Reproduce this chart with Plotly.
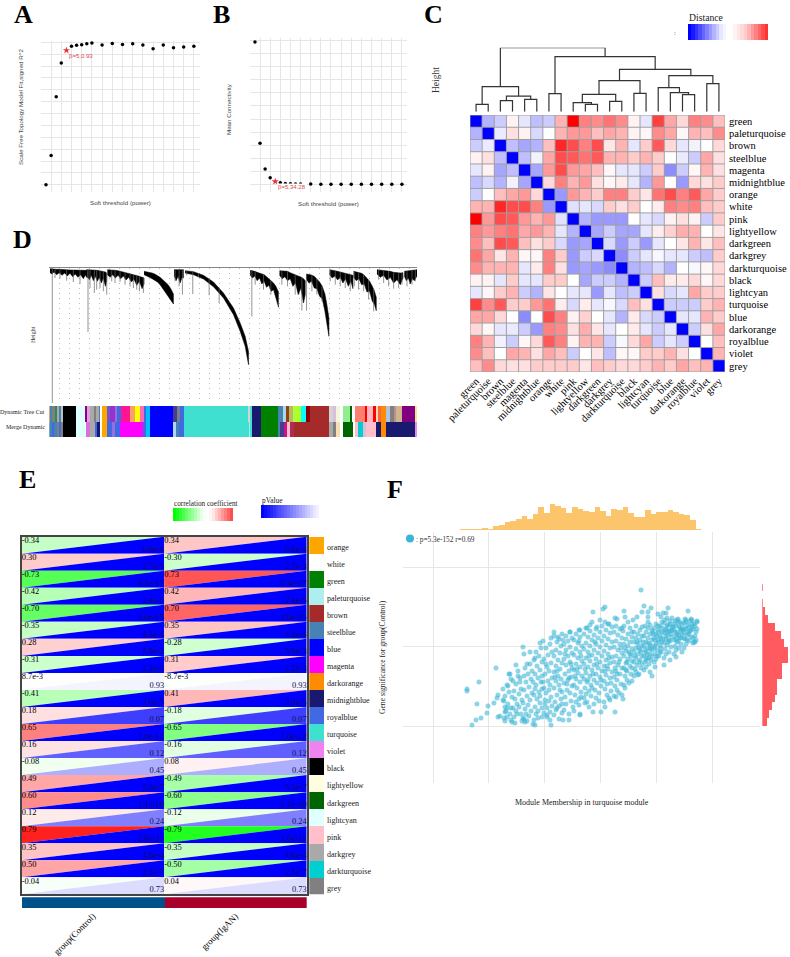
import numpy as np
import plotly.graph_objects as go

W, H = 790, 957
SERIF = "Liberation Serif"
SANS = "Liberation Sans"

# ---------- A / B soft threshold ----------
powers = [1, 2, 3, 4, 5, 6, 7, 8, 9, 10, 12, 14, 16, 18, 20, 22, 24, 26, 28, 30]
r2_signed = [0.0, 0.203, 0.609, 0.842, 0.93, 0.958, 0.965, 0.969, 0.976, 0.981,
             0.967, 0.978, 0.971, 0.976, 0.967, 0.941, 0.967, 0.948, 0.953, 0.958]
mean_conn = [1820, 525, 193, 81, 34.28, 17, 9, 5, 3, 2, 1, 0.6, 0.4, 0.3, 0.2, 0.1, 0.1, 0.1, 0.1, 0.1]

# ---------- C module distance heatmap ----------
modules_c = ["green", "paleturquoise", "brown", "steelblue", "magenta", "midnightblue", "orange",
             "white", "pink", "lightyellow", "darkgreen", "darkgrey", "darkturquoise", "black",
             "lightcyan", "turquoise", "blue", "darkorange", "royalblue", "violet", "grey"]
distance = [
    [-1, -.3, -.2, .05, -.1, -.25, -.2, .3, 1, .5, .45, .55, .45, .05, -.1, .75, .35, .15, .5, .45, .25],
    [-.3, -1, -.08, .12, .05, -.15, 0, .3, .4, .4, .25, .35, .3, .05, .03, .45, .35, .03, .3, .25, .45],
    [-.2, -.08, -1, -.25, -.35, -.3, .25, .85, .7, .5, .7, .1, .3, -.1, .2, .65, .15, -.1, -.05, 0, .15],
    [.05, .12, -.25, -1, -.25, -.05, .35, .7, .65, .55, .65, .3, .3, .2, .3, .2, 0, -.08, -.2, .35, .12],
    [-.1, .05, -.35, -.25, -1, -.35, .4, .7, .4, .35, .25, .03, -.1, -.1, -.2, .2, -.45, -.2, .03, .3, .12],
    [-.25, -.15, -.3, -.05, -.35, -1, .15, .5, .3, .4, .12, .03, .08, -.1, -.3, .4, 0, -.4, .15, .12, .2],
    [-.2, 0, .25, .35, .4, .15, -1, -.4, .4, .3, .2, .5, .5, .2, .1, .55, .7, .5, .65, .35, .2],
    [.3, .3, .85, .7, .7, .5, -.4, -1, -.12, -.1, -.15, .2, .12, .2, 0, .07, .5, .45, .5, .25, .2],
    [1, .4, .7, .65, .4, .3, .4, -.12, -1, -.3, -.4, -.4, -.4, 0, -.1, -.15, .05, .12, .05, -.2, .2],
    [.5, .4, .5, .55, .35, .4, .3, -.1, -.3, -1, -.35, -.2, -.35, -.35, -.1, .07, .18, .32, .3, 0, .1],
    [.45, .25, .7, .65, .25, .12, .2, -.15, -.4, -.35, -1, -.15, -.4, -.2, -.4, -.1, 0, .1, .3, .1, .25],
    [.55, .35, .1, .3, .03, .03, .5, .2, -.4, -.2, -.15, -1, -.45, -.2, -.1, -.03, -.1, -.1, -.2, -.25, .2],
    [.45, .3, .3, .3, -.1, .08, .5, .12, -.4, -.35, -.4, -.45, -1, -.3, -.25, -.15, -.3, 0, -.03, .03, .15],
    [.05, .05, -.1, .2, -.1, -.1, .2, .2, 0, -.35, -.2, -.2, -.3, -1, -.2, .25, .08, .08, .15, .03, .15],
    [-.1, .03, .2, .3, -.2, -.3, .1, 0, -.1, -.1, -.4, -.1, -.25, -.2, -1, .12, -.15, -.1, .35, .2, .2],
    [.75, .45, .65, .2, .2, .4, .55, .07, -.15, .07, -.1, -.03, -.15, .25, .12, -1, -.2, -.2, -.2, .2, .3],
    [.35, .35, .15, 0, -.45, 0, .7, .5, .05, .18, 0, -.1, -.3, .08, -.15, -.2, -1, -.1, -.1, .3, .2],
    [.15, .03, -.1, -.08, -.2, -.4, .5, .45, .12, .32, .1, -.1, 0, .08, -.1, -.2, -.1, -1, -.2, .12, .35],
    [.5, .3, -.05, -.2, .03, .15, .65, .5, .05, .3, .3, -.2, -.03, .15, .35, -.2, -.1, -.2, -1, 0, .25],
    [.45, .25, 0, .35, .3, .12, .35, .25, -.2, 0, .1, -.25, .03, .03, .2, .2, .3, .12, 0, -1, .3],
    [.25, .45, .15, .12, .12, .2, .2, .2, .2, .1, .25, .2, .15, .15, .2, .3, .2, .35, .25, .3, -1],
]
distance_legend = [-1, -.9, -.8, -.7, -.6, -.5, -.4, -.3, -.2, -.1, -.04, 0, 0, .05, .1, .15, .2, .3, .4, .5, .6, .7, .8]
# merges: (node a, node b, height); leaves are 0..20, new nodes count up from 21
module_merges = [
    (0, 1, 22), (2, 3, 33), (4, 5, 37), (22, 23, 47), (21, 24, 75), (6, 7, 54),
    (9, 10, 22), (8, 27, 27), (11, 12, 31), (28, 29, 52), (13, 14, 55), (30, 31, 93),
    (17, 18, 51), (16, 33, 57), (15, 34, 72), (19, 20, 84), (35, 36, 108),
    (32, 37, 127), (26, 38, 165), (25, 39, 192),
]

# ---------- D gene dendrogram ----------
# (gene order, top of the branch, jagged bottom of the branch)
branch_1 = [(150, 2, 14), (156, 3, 18), (162, 3, 12), (170, 4, 20), (178, 4, 14), (186, 5, 22), (194, 5, 15), (202, 5, 24),
            (210, 6, 16), (218, 6, 26), (226, 6, 18), (234, 7, 28), (242, 7, 20), (250, 8, 32), (256, 7, 22), (262, 5, 30)]
branch_2 = [(262, 5, 25), (268, 5, 35), (274, 5, 22), (280, 5, 38), (286, 6, 25), (292, 7, 40), (298, 8, 28), (304, 9, 45),
            (310, 10, 30), (316, 12, 55), (320, 15, 40)]
branch_3 = [(322, 5, 20), (330, 5, 28), (338, 6, 20), (346, 7, 30), (354, 8, 22), (362, 10, 32), (370, 11, 24), (378, 13, 36),
            (386, 15, 28), (394, 18, 42), (402, 20, 34), (410, 22, 52), (418, 25, 40), (426, 28, 62), (432, 30, 48)]
branch_4 = [(432, 10, 20), (440, 11, 25), (448, 13, 28), (456, 15, 32), (464, 18, 36), (472, 22, 42), (480, 28, 50),
            (488, 35, 60), (496, 42, 72), (504, 50, 85), (512, 62, 96), (520, 78, 108)]
branch_5 = [(522, 5, 22), (528, 5, 38), (534, 5, 25), (540, 5, 45), (546, 5, 28), (550, 5, 30)]
branch_6 = [(555, 8, 15), (580, 11, 20), (610, 22, 33), (640, 42, 56), (670, 75, 90), (700, 120, 140),
            (720, 165, 190), (735, 205, 235), (745, 250, 290)]
branch_7 = [(750, 7, 22), (757, 8, 30), (764, 10, 24), (771, 13, 38), (778, 15, 30), (785, 17, 48), (792, 20, 40),
            (799, 26, 58), (806, 32, 52), (813, 38, 70), (820, 45, 65), (827, 55, 90), (835, 72, 118)]
branch_8 = [(838, 8, 22), (846, 8, 32), (854, 9, 26), (862, 10, 38), (870, 14, 32), (878, 18, 55), (886, 20, 45),
            (894, 24, 80), (902, 27, 60), (910, 32, 105), (915, 38, 80)]
branch_9 = [(918, 18, 32), (926, 19, 45), (934, 21, 40), (942, 25, 60), (950, 32, 62), (958, 42, 85), (966, 55, 92),
            (974, 78, 130), (980, 110, 165), (986, 150, 205)]
branch_10 = [(988, 5, 20), (996, 6, 30), (1004, 8, 24), (1012, 10, 36), (1020, 12, 28), (1028, 14, 45), (1036, 16, 32),
             (1044, 18, 55), (1052, 20, 40), (1058, 22, 62)]
branch_11 = [(1060, 10, 28), (1068, 12, 38), (1076, 14, 32), (1084, 16, 50), (1092, 22, 48), (1100, 30, 72), (1108, 40, 70),
             (1116, 55, 100), (1122, 68, 108), (1128, 88, 128)]
branch_12 = [(1130, 5, 18), (1140, 6, 28), (1150, 7, 22), (1160, 8, 36), (1170, 10, 28), (1180, 13, 45), (1190, 15, 35),
             (1200, 15, 50), (1208, 14, 30)]
branch_13 = [(1212, 10, 24), (1218, 9, 38), (1224, 9, 30), (1230, 8, 48), (1236, 8, 32), (1242, 6, 38), (1250, 5, 24)]
branches = [branch_1, branch_2, branch_3, branch_4, branch_5, branch_6, branch_7, branch_8, branch_9,
            branch_10, branch_11, branch_12, branch_13]
drops = [(157, 0, 405), (264, 5, 192), (283, 5, 75), (300, 8, 60), (320, 15, 80), (345, 7, 45), (375, 12, 50), (400, 20, 60),
         (418, 25, 70), (430, 28, 75), (547, 5, 80), (578, 11, 78), (627, 30, 82), (657, 58, 105), (755, 8, 145), (765, 10, 50),
         (790, 20, 65), (812, 38, 80), (835, 70, 115), (845, 8, 50), (862, 10, 55), (885, 20, 80), (905, 28, 128), (919, 18, 128),
         (935, 21, 70), (950, 32, 80), (965, 55, 100), (990, 5, 40), (1005, 8, 50), (1020, 12, 55), (1035, 16, 60), (1050, 20, 70),
         (1062, 11, 55), (1075, 14, 65), (1090, 20, 70), (1105, 35, 95), (1120, 60, 130), (1135, 6, 35), (1150, 7, 45), (1165, 9, 55),
         (1180, 13, 62), (1195, 15, 60), (1205, 15, 50), (1220, 9, 55), (1235, 8, 50), (1245, 6, 40), (165, 4, 30), (180, 4, 32),
         (200, 5, 38), (220, 6, 42), (240, 7, 48), (270, 5, 60), (290, 7, 65), (310, 10, 70), (335, 6, 40), (360, 10, 42),
         (390, 16, 55), (410, 22, 65), (525, 5, 40), (537, 5, 55), (560, 8, 22), (595, 15, 28)]

tree_edges = [148, 152, 158, 165, 172, 178, 184, 190, 230, 258, 262, 272, 284, 290, 297, 303, 308, 322, 330, 345,
              352, 365, 392, 405, 422, 432, 440, 452, 520, 532, 540, 553, 748, 752, 758, 783, 836, 850, 858, 868,
              880, 905, 918, 930, 988, 1000, 1008, 1020, 1030, 1050, 1060, 1065, 1095, 1102, 1120, 1128, 1135,
              1145, 1160, 1172, 1183, 1190, 1208, 1245, 1252]
tree_colors = ["peru", "steelblue", "grey", "seagreen", "darkgrey", "steelblue", "silver", "black", "lightcyan",
               "darkmagenta", "plum", "darkgrey", "grey", "darkgrey", "steelblue", "white", "orange", "slateblue",
               "darkorchid", "mediumpurple", "royalblue", "deeppink", "sandybrown", "yellow", "hotpink", "royalblue",
               "deepskyblue", "blue", "darkslateblue", "slategrey", "royalblue", "turquoise", "lightgrey", "turquoise",
               "midnightblue", "green", "steelblue", "lightblue", "saddlebrown", "darkkhaki", "greenyellow", "cyan",
               "darkred", "brown", "lightgrey", "thistle", "beige", "white", "lightgreen", "darkgreen", "white",
               "salmon", "red", "lightpink", "red", "wheat", "tomato", "darkorange", "lightsteelblue", "grey",
               "rosybrown", "tan", "purple", "khaki"]
merge_edges = [148, 156, 164, 172, 178, 186, 190, 230, 258, 270, 285, 292, 300, 308, 322, 338, 347, 362, 430, 440,
               452, 520, 530, 538, 553, 748, 752, 758, 783, 836, 842, 852, 862, 870, 884, 988, 1000, 1008, 1020,
               1030, 1060, 1065, 1075, 1090, 1100, 1128, 1145, 1158, 1245, 1252]
merge_colors = ["steelblue", "royalblue", "steelblue", "grey", "royalblue", "grey", "black", "lightcyan",
                "orchid", "darkgrey", "royalblue", "midnightblue", "white", "orange", "royalblue", "mediumpurple",
                "royalblue", "magenta", "royalblue", "deepskyblue", "blue", "lightblue", "steelblue", "royalblue",
                "turquoise", "paleturquoise", "turquoise", "midnightblue", "green", "steelblue", "darkslateblue",
                "mediumvioletred", "pink", "#b22a5a", "brown", "darkgrey", "grey", "wheat", "white", "darkgreen",
                "white", "pink", "darkturquoise", "thistle", "pink", "midnightblue", "darkorange", "midnightblue",
                "violet"]

# ---------- E module-trait table ----------
modules_e = ["orange", "white", "green", "paleturquoise", "brown", "steelblue", "blue", "magenta", "darkorange",
             "midnightblue", "royalblue", "turquoise", "violet", "black", "lightyellow", "darkgreen", "lightcyan",
             "pink", "darkgrey", "darkturquoise", "grey"]
corr_control = [-.34, .30, -.73, -.42, -.70, -.35, .28, -.31, .0087, -.41, .18, .65, .16, -.08, .49, .60, .12, .79,
                .35, .50, -.04]
corr_text = ["-0.34", "0.30", "-0.73", "-0.42", "-0.70", "-0.35", "0.28", "-0.31", "8.7e-3", "-0.41", "0.18", "0.65",
             "0.16", "-0.08", "0.49", "0.60", "0.12", "0.79", "0.35", "0.50", "-0.04"]
corr_text_igan = ["0.34", "-0.30", "0.73", "0.42", "0.70", "0.35", "-0.28", "0.31", "-8.7e-3", "0.41", "-0.18", "-0.65",
                  "-0.16", "0.08", "-0.49", "-0.60", "-0.12", "-0.79", "-0.35", "-0.50", "0.04"]
p_values = [6.8e-4, 2.7e-3, 6.3e-17, 2.4e-5, 3.0e-15, 4.3e-4, 5.9e-3, 2.2e-3, .93, 3.0e-5, .07, 1.0e-12, .12, .45,
            5.3e-7, 1.1e-10, .24, 2.6e-21, 4.6e-4, 2.5e-7, .73]
p_text = ["6.8e-4", "2.7e-3", "6.3e-17", "2.4e-5", "3.0e-15", "4.3e-4", "5.9e-3", "2.2e-3", "0.93", "3.0e-5", "0.07",
          "1.0e-12", "0.12", "0.45", "5.3e-7", "1.1e-10", "0.24", "2.6e-21", "4.6e-4", "2.5e-7", "0.73"]
groups = ["group(Control)", "group(IgAN)"]
group_colors = ["#00508c", "#a8002a"]
corr_legend = [-1, -.9, -.8, -.7, -.6, -.5, -.4, -.3, -.2, -.1, -.03, 0, .03, .1, .2, .3, .4, .5, .6, .7]
p_legend = [0, .05, .1, .15, .2, .25, .3, .35, .4, .45, .5, .55, .6, .65, .7, .75, .8, .85, .9, .95, 1]

# ---------- F membership vs significance ----------
# the original axes carry no numbers, so values are read on the scale of the grid
gene_points = [
    (34, 37), (34, 35), (46, 44), (63, 58), (44, 22), (55, 20), (54, 13), (48, 8), (43, 6), (39, 1), (61, 23), (64, 28),
    (65, 31), (70, 26), (75, 40), (80, 45), (76, 52), (85, 50), (65, 9), (67, 10), (72, 14), (72, 19), (78, 18), (74, 9),
    (72, 5), (79, 4), (84, 12), (90, 8), (92, 4), (100, 2), (102, 1), (109, 9), (114, 11), (118, 1), (117, 6), (130, 6),
    (136, 6), (147, 11), (129, 13), (124, 18), (140, 19), (146, 21), (90, 79), (91, 72), (97, 74), (83, 61), (77, 52),
    (94, 62), (102, 68), (107, 83), (121, 94), (125, 89), (130, 86), (137, 94), (147, 96),
    (208, 136), (160, 114), (170, 117), (172, 119), (191, 115), (192, 109), (211, 120), (218, 118), (235, 118), (255, 115),
    (209, 114), (215, 114), (215, 109), (225, 112), (230, 113), (233, 113), (228, 109), (234, 108), (239, 108), (245, 107),
    (252, 107), (264, 105), (259, 106), (204, 109), (215, 104), (217, 101), (167, 106), (184, 107), (182, 108), (172, 104),
    (176, 102), (159, 104), (157, 101), (154, 98), (164, 99), (189, 98), (190, 95), (199, 94), (209, 99), (212, 100), (220, 94),
    (182, 14), (168, 14), (160, 14), (156, 19), (172, 19), (152, 23), (147, 12), (190, 27), (177, 26), (183, 29), (189, 31),
    (199, 45), (192, 38), (219, 50), (217, 54), (231, 61), (243, 69), (249, 74), (260, 83), (262, 84), (237, 66), (222, 59), (205, 51),
    (71, 8), (73, 15), (75, 22), (72, 30), (76, 34), (74, 41), (78, 47), (71, 25), (77, 12), (79, 29), (78, 6), (74, 18), (70, 37),
    (81, 9), (83, 15), (84, 22), (82, 27), (86, 32), (88, 37), (83, 42), (87, 48), (85, 55), (89, 5), (82, 3), (88, 12), (86, 19),
    (81, 35), (89, 26), (87, 44), (80, 18),
    (91, 7), (93, 12), (92, 17), (95, 21), (97, 26), (94, 30), (91, 36), (96, 39), (93, 44), (98, 47), (95, 52), (92, 58), (97, 62),
    (99, 33), (90, 23), (94, 5), (98, 15), (96, 10), (99, 55), (91, 50),
    (101, 6), (103, 12), (105, 15), (102, 19), (107, 23), (104, 27), (101, 31), (106, 34), (109, 37), (103, 41), (108, 44), (105, 48),
    (102, 52), (107, 56), (104, 60), (109, 64), (101, 66), (106, 70), (103, 74), (108, 78), (109, 18), (105, 8), (107, 30), (100, 44),
    (102, 37), (109, 50),
    (111, 13), (114, 18), (112, 22), (116, 25), (118, 29), (113, 33), (111, 38), (117, 41), (115, 45), (119, 48), (112, 52), (116, 55),
    (114, 59), (118, 63), (111, 67), (115, 71), (119, 74), (113, 78), (117, 82), (110, 85), (118, 88), (112, 26), (116, 36), (119, 20),
    (114, 9), (117, 14), (110, 44), (113, 62),
    (121, 11), (123, 16), (126, 20), (122, 24), (128, 27), (124, 31), (129, 34), (121, 38), (126, 41), (123, 45), (128, 47), (125, 50),
    (121, 54), (127, 57), (123, 60), (129, 63), (125, 66), (121, 70), (127, 73), (123, 76), (128, 80), (124, 84), (121, 90), (126, 87),
    (129, 92), (122, 49), (127, 36), (124, 55), (129, 22), (126, 7),
    (131, 16), (133, 22), (136, 12), (138, 25), (132, 29), (137, 33), (134, 36), (139, 40), (131, 43), (135, 46), (138, 49), (132, 52),
    (136, 55), (139, 58), (133, 61), (137, 64), (131, 67), (135, 70), (139, 73), (133, 76), (137, 79), (131, 82), (135, 85), (139, 88),
    (133, 90), (137, 94), (134, 42), (138, 62), (132, 72), (136, 48),
    (141, 15), (143, 24), (146, 27), (142, 31), (148, 34), (144, 38), (141, 41), (147, 44), (143, 47), (149, 50), (145, 53), (141, 56),
    (147, 59), (143, 62), (149, 65), (145, 68), (141, 71), (147, 74), (143, 77), (149, 80), (145, 83), (141, 86), (147, 89), (143, 92),
    (146, 96), (148, 29), (144, 57), (148, 70), (142, 50), (146, 85),
    (151, 28), (153, 32), (156, 35), (152, 38), (158, 41), (154, 44), (151, 47), (157, 50), (153, 53), (159, 56), (155, 59), (151, 62),
    (157, 65), (153, 68), (159, 71), (155, 74), (151, 77), (157, 80), (153, 83), (159, 86), (155, 89), (151, 92), (157, 95), (153, 98),
    (158, 30), (155, 46), (152, 57), (156, 70), (154, 24), (159, 38),
    (161, 22), (163, 28), (166, 33), (162, 36), (168, 40), (164, 43), (161, 46), (167, 49), (163, 52), (169, 55), (165, 58), (161, 61),
    (167, 64), (163, 67), (169, 70), (165, 73), (161, 76), (167, 79), (163, 82), (169, 85), (165, 88), (161, 91), (167, 94), (163, 97),
    (169, 100), (166, 25), (164, 62), (162, 84), (168, 46), (160, 52),
    (171, 24), (174, 31), (176, 28), (172, 37), (178, 35), (174, 42), (171, 45), (177, 48), (173, 51), (179, 54), (175, 57), (171, 60),
    (177, 63), (173, 66), (179, 69), (175, 72), (171, 75), (177, 78), (173, 81), (179, 84), (175, 87), (171, 90), (177, 93), (173, 96),
    (179, 99), (175, 102), (172, 55), (178, 43), (176, 68), (174, 60),
    (181, 30), (184, 36), (186, 33), (182, 40), (188, 42), (184, 46), (181, 49), (187, 52), (183, 55), (189, 58), (185, 61), (181, 64),
    (187, 67), (183, 70), (189, 73), (185, 76), (181, 79), (187, 82), (183, 85), (189, 88), (185, 91), (181, 94), (187, 97), (183, 100),
    (186, 64), (182, 58), (188, 78), (184, 52),
    (191, 41), (194, 46), (196, 43), (192, 50), (198, 52), (194, 55), (191, 58), (197, 60), (193, 63), (199, 65), (195, 67), (191, 70),
    (197, 72), (193, 75), (199, 77), (195, 80), (191, 82), (197, 84), (193, 87), (199, 89), (195, 92), (191, 100), (197, 98), (194, 64),
    (198, 70), (192, 78), (196, 74), (193, 56), (199, 58), (195, 104),
    (201, 50), (203, 54), (206, 52), (202, 57), (208, 58), (204, 61), (201, 64), (207, 66), (203, 68), (209, 70), (205, 72), (201, 74),
    (207, 76), (203, 78), (209, 80), (205, 82), (201, 84), (207, 86), (203, 88), (209, 90), (205, 92), (201, 94), (207, 96), (206, 64),
    (208, 74), (202, 70), (204, 84), (206, 78), (209, 62), (203, 100), (200, 106),
    (211, 56), (213, 59), (216, 62), (212, 64), (218, 66), (214, 68), (211, 70), (217, 72), (213, 74), (219, 76), (215, 78), (211, 80),
    (217, 82), (213, 84), (219, 86), (215, 88), (211, 90), (217, 92), (213, 94), (219, 96), (215, 98), (216, 68), (212, 76), (218, 80),
    (214, 72), (210, 84), (219, 70), (213, 66), (217, 77), (215, 83),
    (221, 64), (223, 67), (226, 70), (222, 72), (228, 74), (224, 76), (221, 78), (227, 80), (223, 82), (229, 84), (225, 86), (221, 88),
    (227, 90), (223, 92), (229, 94), (225, 96), (221, 98), (227, 100), (223, 102), (229, 98), (226, 84), (222, 80), (228, 78), (224, 90),
    (226, 94), (220, 92), (228, 88), (224, 70), (222, 86), (225, 100), (229, 104), (227, 74),
    (231, 68), (233, 72), (236, 74), (232, 77), (238, 79), (234, 81), (231, 83), (237, 85), (233, 87), (239, 89), (235, 91), (231, 93),
    (237, 95), (233, 97), (239, 99), (235, 101), (231, 103), (237, 105), (233, 90), (236, 86), (232, 96), (238, 92), (234, 100), (230, 87),
    (239, 96), (235, 84), (237, 102), (232, 106), (236, 95), (234, 94),
    (241, 72), (243, 76), (246, 78), (242, 80), (248, 82), (244, 84), (241, 86), (247, 88), (243, 90), (249, 92), (245, 94), (241, 96),
    (247, 98), (243, 100), (249, 102), (245, 104), (241, 102), (248, 96), (244, 92), (246, 100), (242, 94), (248, 88), (240, 99), (244, 106),
    (247, 104), (243, 87), (249, 97), (245, 85), (246, 91), (242, 105),
    (251, 78), (253, 82), (256, 85), (252, 87), (258, 89), (254, 91), (251, 93), (257, 95), (253, 97), (259, 99), (255, 101), (251, 103),
    (257, 105), (253, 104), (256, 92), (252, 98), (258, 96), (254, 86), (250, 96), (259, 102), (255, 94), (251, 88), (256, 99), (253, 106), (258, 107),
    (261, 84), (262, 90), (263, 94), (260, 97), (262, 100), (264, 104), (261, 102), (263, 86), (260, 88), (264, 97),
]
hist_membership = [2, 2, 2, 2, 4, 1, 13, 14, 24, 26, 32, 41, 33, 49, 69, 51, 77, 71, 67, 51, 68, 62, 56, 55, 69, 57, 41, 62,
                   59, 68, 52, 38, 40, 61, 49, 54, 53, 61, 54, 48, 46, 30, 2]
hist_significance = [16, 21, 29, 38, 43, 45, 59, 60, 76, 76, 65, 55, 38, 18, 8, 1, 0, 1]

fig = go.Figure()


def add_axes(n, box, xa=None, ya=None):
    # box is left, top, right, bottom on the page
    left, top, right, bottom = box
    base = dict(showgrid=False, zeroline=False, showticklabels=False, ticks="", showline=False, fixedrange=True)
    fig.layout[f"xaxis{n}"] = dict(base, domain=[left / W, right / W], anchor=f"y{n}", **(xa or {}))
    fig.layout[f"yaxis{n}"] = dict(base, domain=[1 - bottom / H, 1 - top / H], anchor=f"x{n}", **(ya or {}))
    return dict(xaxis=f"x{n}", yaxis=f"y{n}")


def label(x, y, text, size=8, color="black", family=SERIF, angle=0, xanchor="left", **kw):
    fig.add_annotation(x=x / W, y=1 - y / H, xref="paper", yref="paper", text=text, showarrow=False, textangle=angle,
                       font=dict(size=size, color=color, family=family), xanchor=xanchor, yanchor="middle",
                       borderpad=0, **kw)


for letter, x, y in [("A", 13, 15), ("B", 212, 15), ("C", 423, 15), ("D", 12, 239), ("E", 18, 479), ("F", 386, 490)]:
    label(x, y, f"<b>{letter}</b>", size=26)

GRID = "#e6e6e6"

# A
a = add_axes(2, (41, 41, 200, 192),
             dict(range=[0.02, 31.2], showgrid=True, gridcolor=GRID, tick0=0, dtick=2),
             dict(range=[-0.05, 0.995], showgrid=True, gridcolor=GRID, tick0=0, dtick=0.0822))
fig.add_trace(go.Scatter(x=powers[:4] + powers[5:], y=r2_signed[:4] + r2_signed[5:], mode="markers",
                         marker=dict(color="black", size=3.5), **a))
fig.add_trace(go.Scatter(x=[powers[4]], y=[r2_signed[4]], mode="markers",
                         marker=dict(color="#e8343a", size=5.5, symbol="star"), **a))
label(68, 56, "β=5,0.93", size=6, color="#e0484e", family=SANS)
label(21, 107, "Scale Free Topology Model Fit,signed R^2", size=6.2, color="#444", family=SANS, angle=-90, xanchor="center")
label(120, 202, "Soft threshold (power)", size=6.2, color="#444", family=SANS, xanchor="center")

# B
b = add_axes(3, (250, 38, 407, 192),
             dict(range=[0.02, 31], showgrid=True, gridcolor=GRID, tick0=0, dtick=2),
             dict(range=[-100, 1870], showgrid=True, gridcolor=GRID, tick0=0, dtick=166.7))
fig.add_trace(go.Scatter(x=powers[:4] + powers[5:], y=mean_conn[:4] + mean_conn[5:], mode="markers",
                         marker=dict(color="black", size=3.5), **b))
fig.add_trace(go.Scatter(x=[powers[4]], y=[mean_conn[4]], mode="markers",
                         marker=dict(color="#e8343a", size=5.5, symbol="star"), **b))
label(277, 187, "β=5,34.28", size=6, color="#e0484e", family=SANS, bgcolor="white")
label(228, 109, "Mean Connectivity", size=6.2, color="#444", family=SANS, angle=-90, xanchor="center")
label(328, 203, "Soft threshold (power)", size=6.2, color="#444", family=SANS, xanchor="center")

# C dendrogram
nodes = {i: (i, 0) for i in range(len(modules_c))}
tree_x, tree_y = [], []
for k, (p, q, h) in enumerate(module_merges):
    xp, hp = nodes[p]
    xq, hq = nodes[q]
    tree_x += [xp, xp, xq, xq, None]
    tree_y += [hp, h, h, hq, None]
    nodes[len(modules_c) + k] = ((xp + xq) / 2, h)
cd = add_axes(4, (470, 47.7, 725, 111.7), dict(range=[-0.5, 20.5]), dict(range=[0, 192]))
fig.add_trace(go.Scatter(x=tree_x, y=tree_y, mode="lines", line=dict(color="#333", width=1.2), **cd))
label(436, 80, "Height", size=9.5, color="#333", angle=-90, xanchor="center")

# C heatmap
blue_red = [[0, "#0000ff"], [0.5, "#ffffff"], [1, "#ff0000"]]
ch = add_axes(5, (470, 115, 725, 372),
              dict(range=[-0.5, 20.5], showticklabels=True, tickmode="array", tickvals=list(range(21)), ticktext=modules_c,
                   tickangle=-45, tickfont=dict(size=10.5, family=SERIF, color="black")),
              dict(range=[20.5, -0.5], side="right", showticklabels=True, tickmode="array", tickvals=list(range(21)),
                   ticktext=modules_c, tickfont=dict(size=10.5, family=SERIF, color="black"), ticklabelstandoff=3))
fig.add_trace(go.Heatmap(z=distance, colorscale=blue_red, zmin=-1, zmax=1, showscale=False, **ch))
border_x, border_y = [], []
for i in range(len(modules_c) + 1):
    border_x += [i - 0.5, i - 0.5, None, -0.5, 20.5, None]
    border_y += [-0.5, 20.5, None, i - 0.5, i - 0.5, None]
fig.add_trace(go.Scatter(x=border_x, y=border_y, mode="lines", line=dict(color="#a0a0a0", width=1), **ch))

cl = add_axes(6, (688, 24, 768, 40))
fig.add_trace(go.Heatmap(z=[distance_legend], colorscale=blue_red, zmin=-1, zmax=1, showscale=False, **cl))
label(688, 18, "Distance", size=9.7, color="#222")
label(673, 33, ":", size=6, color="#555")

# D dendrogram
dd = add_axes(7, (49.3, 268, 417, 403),
              dict(range=[148, 1250], showgrid=True, gridcolor="#bdbdbd", griddash="1px,4px", gridwidth=1, tick0=178, dtick=30,
                   showline=True, linecolor="#888", linewidth=1, side="top"),
              dict(range=[405, 0]))
for branch in branches:
    bx = [p[0] for p in branch]
    fig.add_trace(go.Scatter(x=bx + bx[::-1], y=[p[1] for p in branch] + [p[2] for p in branch][::-1], mode="lines",
                             fill="toself", fillcolor="black", line=dict(color="black", width=0.5), **dd))
drop_x, drop_y = [], []
for x, start, depth in drops:
    drop_x += [x, x, None]
    drop_y += [start, depth, None]
fig.add_trace(go.Scatter(x=drop_x, y=drop_y, mode="lines", line=dict(color="#666", width=0.7), **dd))

db = add_axes(8, (49.3, 406, 417.3, 437), dict(range=[148, 1252]), dict(range=[0, 2]))
for edges, colors, base in [(tree_edges, tree_colors, 1), (merge_edges, merge_colors, 0)]:
    e = np.array(edges, dtype=float)
    fig.add_trace(go.Bar(x=(e[:-1] + e[1:]) / 2, width=np.diff(e), y=[1] * len(colors), base=base,
                         marker=dict(color=colors, line=dict(width=0)), **db))
label(33, 335, "Height", size=6, color="#333", angle=-90, xanchor="center")
label(46, 412, "Dynamic Tree Cut", size=6, color="#222", xanchor="right")
label(46, 427, "Merge Dynamic", size=6, color="#222", xanchor="right")


# E triangles
def shade(r, pos, neg):
    level = int(np.interp(abs(r), [0, .18, .35, .5, .65, .73, .79], [255, 224, 197, 165, 128, 85, 32]))
    return (pos if r > 0 else neg).format(level)


def p_shade(p):
    level = int(np.interp(p, [0, .003, .07, .12, .24, .45, .73, .93, 1], [0, 0, 62, 96, 128, 174, 220, 244, 255]))
    return f"rgb({level},{level},255)"


et = add_axes(9, (21.7, 536.7, 306.7, 894.3),
              dict(range=[0, 2], showline=True, mirror=True, linecolor="#444", linewidth=1.5),
              dict(range=[21, 0], showline=True, mirror=True, linecolor="#444", linewidth=1.5))
for col, sign in enumerate([1, -1]):
    for row, (r, p) in enumerate(zip(corr_control, p_values)):
        fig.add_trace(go.Scatter(x=[col, col + 1, col, col], y=[row, row, row + 1, row], mode="none", fill="toself",
                                 fillcolor=shade(sign * r, "rgb(255,{0},{0})", "rgb({0},255,{0})"), **et))
        fig.add_trace(go.Scatter(x=[col + 1, col + 1, col, col + 1], y=[row, row + 1, row + 1, row], mode="none",
                                 fill="toself", fillcolor=p_shade(p), **et))
rows = list(range(21))
for col, texts in enumerate([corr_text, corr_text_igan]):
    fig.add_trace(go.Scatter(x=[col] * 21, y=rows, mode="text", text=texts, textposition="bottom right",
                             textfont=dict(size=8.4, family=SERIF, color="black"), **et))
    fig.add_trace(go.Scatter(x=[col + 1] * 21, y=[r + 1 for r in rows], mode="text", text=p_text, textposition="top left",
                             textfont=dict(size=8.4, family=SERIF, color="#101050"), **et))

ec = add_axes(10, (309.3, 536.7, 324, 894.3),
              dict(range=[0, 1]),
              dict(range=[20.5, -0.5], side="right", showticklabels=True, tickmode="array",
                   tickvals=[r + 0.12 for r in rows], ticktext=modules_e,
                   tickfont=dict(size=8, family=SERIF, color="#222"), ticklabelstandoff=2))
fig.add_trace(go.Bar(y=rows, x=[1] * 21, width=1, orientation="h", marker=dict(color=modules_e, line=dict(width=0)), **ec))

eb = add_axes(11, (21.7, 897.3, 306.7, 908.3),
              dict(range=[-0.5, 1.5], showticklabels=True, tickmode="array", tickvals=[0, 1], ticktext=groups, tickangle=-45,
                   tickfont=dict(size=9, family=SERIF, color="black")),
              dict(range=[0, 1]))
fig.add_trace(go.Bar(x=[0, 1], y=[1, 1], width=1, marker=dict(color=group_colors, line=dict(width=0)), **eb))

green_red = [[0, "#00ff00"], [0.5, "#ffffff"], [1, "#ff0000"]]
el = add_axes(12, (173, 508, 233, 521))
fig.add_trace(go.Heatmap(z=[corr_legend], colorscale=green_red, zmin=-1, zmax=1, showscale=False, **el))
label(173, 504, "correlation coefficient", size=7.2, color="#222")
pl = add_axes(13, (261, 505, 322, 518))
fig.add_trace(go.Heatmap(z=[p_legend], colorscale=[[0, "#0000ff"], [1, "#ffffff"]], zmin=0, zmax=1, showscale=False, **pl))
label(261, 501, "pValue", size=7.4, color="#222")

# F
gene_x = [g[0] for g in gene_points]
gene_y = [g[1] for g in gene_points]
fm = add_axes(14, (403.3, 531.7, 760, 783.3),
              dict(range=[-29.7, 327], showgrid=True, gridcolor=GRID, tick0=0, dtick=55.8),
              dict(range=[-57.3, 194.3], showgrid=True, gridcolor=GRID, tick0=0, dtick=79.4))
fig.add_trace(go.Scatter(x=gene_x, y=gene_y, mode="markers", marker=dict(color="rgba(61,181,214,0.58)", size=5), **fm))

ft = add_axes(15, (403.3, 495, 760, 530), dict(range=[-29.7, 327]), dict(range=[0, 105]))
fig.add_trace(go.Bar(x0=29.8, dx=5.62, y=hist_membership, width=5.62,
                     marker=dict(color="#fdc56b", line=dict(width=0)), **ft))
fr = add_axes(16, (762.3, 531.7, 788, 783.3), dict(range=[0, 76]), dict(range=[-57.3, 194.3]))
fig.add_trace(go.Bar(y0=4, dy=7.93, x=hist_significance, width=7.93, orientation="h",
                     marker=dict(color="#ff5a60", line=dict(width=0)), **fr))

fig.add_shape(type="circle", xref="paper", yref="paper", x0=406 / W, x1=414 / W, y0=1 - 542.5 / H, y1=1 - 534.5 / H,
              fillcolor="#3db5d6", line=dict(width=0))
label(415, 539.5, ": p=5.3e-152 r=0.69", size=7.3, color="#333")
label(382, 657, "Gene significance for group(Control)", size=7.6, color="#222", angle=-90, xanchor="center")
label(582, 802, "Module Membership in turquoise module", size=8, color="#222", xanchor="center")

fig.update_layout(template="none", width=W, height=H, margin=dict(l=0, r=0, t=0, b=0), showlegend=False,
                  paper_bgcolor="white", plot_bgcolor="rgba(0,0,0,0)", hovermode=False, bargap=0)

fig.write_html("out.html", config=dict(displayModeBar=False),
               post_script="document.body.style.margin='0';document.body.style.overflow='hidden';")
